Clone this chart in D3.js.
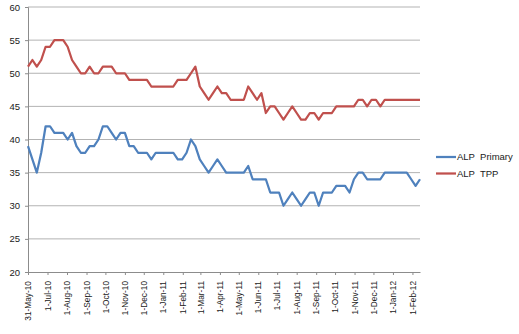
<!DOCTYPE html>
<html>
<head>
<meta charset="utf-8">
<script src="https://cdn.jsdelivr.net/npm/d3@7"></script>
<style>
  html, body { margin: 0; padding: 0; background: #fff; }
  svg { display: block; font-family: "Liberation Sans", Arial, sans-serif; }
</style>
</head>
<body>
<svg id="chart" width="519" height="334"></svg>
<script>
// Weekly poll dates (Monday of each release week)
const pollDates = [
  "2010-05-31",
  "2010-06-07", "2010-06-14", "2010-06-21", "2010-06-28",
  "2010-07-05", "2010-07-12", "2010-07-19", "2010-07-26",
  "2010-08-02", "2010-08-09", "2010-08-16", "2010-08-23", "2010-08-30",
  "2010-09-06", "2010-09-13", "2010-09-20", "2010-09-27",
  "2010-10-04", "2010-10-11", "2010-10-18", "2010-10-25",
  "2010-11-01", "2010-11-08", "2010-11-15", "2010-11-22", "2010-11-29",
  "2010-12-06", "2010-12-13", "2010-12-20", "2010-12-27",
  "2011-01-03", "2011-01-10", "2011-01-17", "2011-01-24", "2011-01-31",
  "2011-02-07", "2011-02-14", "2011-02-21", "2011-02-28",
  "2011-03-07", "2011-03-14", "2011-03-21", "2011-03-28",
  "2011-04-04", "2011-04-11", "2011-04-18", "2011-04-25",
  "2011-05-02", "2011-05-09", "2011-05-16", "2011-05-23", "2011-05-30",
  "2011-06-06", "2011-06-13", "2011-06-20", "2011-06-27",
  "2011-07-04", "2011-07-11", "2011-07-18", "2011-07-25",
  "2011-08-01", "2011-08-08", "2011-08-15", "2011-08-22", "2011-08-29",
  "2011-09-05", "2011-09-12", "2011-09-19", "2011-09-26",
  "2011-10-03", "2011-10-10", "2011-10-17", "2011-10-24", "2011-10-31",
  "2011-11-07", "2011-11-14", "2011-11-21", "2011-11-28",
  "2011-12-05", "2011-12-12", "2011-12-19", "2011-12-26",
  "2012-01-02", "2012-01-09", "2012-01-16", "2012-01-23", "2012-01-30",
  "2012-02-06", "2012-02-13"
];

// ALP primary vote (%)
const alpPrimary = [
  39, 37, 35, 38, 42, 42, 41, 41, 41, 40,
  41, 39, 38, 38, 39, 39, 40, 42, 42, 41,
  40, 41, 41, 39, 39, 38, 38, 38, 37, 38,
  38, 38, 38, 38, 37, 37, 38, 40, 39, 37,
  36, 35, 36, 37, 36, 35, 35, 35, 35, 35,
  36, 34, 34, 34, 34, 32, 32, 32, 30, 31,
  32, 31, 30, 31, 32, 32, 30, 32, 32, 32,
  33, 33, 33, 32, 34, 35, 35, 34, 34, 34,
  34, 35, 35, 35, 35, 35, 35, 34, 33, 34
];

// ALP two-party-preferred vote (%)
const alpTPP = [
  51, 52, 51, 52, 54, 54, 55, 55, 55, 54,
  52, 51, 50, 50, 51, 50, 50, 51, 51, 51,
  50, 50, 50, 49, 49, 49, 49, 49, 48, 48,
  48, 48, 48, 48, 49, 49, 49, 50, 51, 48,
  47, 46, 47, 48, 47, 47, 46, 46, 46, 46,
  48, 47, 46, 47, 44, 45, 45, 44, 43, 44,
  45, 44, 43, 43, 44, 44, 43, 44, 44, 44,
  45, 45, 45, 45, 45, 46, 46, 45, 46, 46,
  45, 46, 46, 46, 46, 46, 46, 46, 46, 46
];

const seriesNames = ["ALP  Primary", "ALP  TPP"];
const seriesColors = ["#4f81bd", "#c0504d"];
const yTicks = [20, 25, 30, 35, 40, 45, 50, 55, 60];
const xTickDates = [
  "2010-05-31", "2010-07-01", "2010-08-01", "2010-09-01", "2010-10-01",
  "2010-11-01", "2010-12-01", "2011-01-01", "2011-02-01", "2011-03-01",
  "2011-04-01", "2011-05-01", "2011-06-01", "2011-07-01", "2011-08-01",
  "2011-09-01", "2011-10-01", "2011-11-01", "2011-12-01", "2012-01-01",
  "2012-02-01"
];

const parse = d3.utcParse("%Y-%m-%d");
const fmt = d3.utcFormat("%-d-%b-%y");
const dates = pollDates.map(parse);

const svg = d3.select("#chart");
const plot = { left: 28, right: 420, top: 7, bottom: 272 };

const x = d3.scaleUtc()
  .domain([dates[0], dates[dates.length - 1]])
  .range([plot.left, plot.right]);
const y = d3.scaleLinear().domain([20, 60]).range([plot.bottom, plot.top]);

// Horizontal gridlines
svg.append("g")
  .selectAll("line")
  .data(yTicks.filter(v => v !== 20))
  .join("line")
  .attr("x1", plot.left).attr("x2", plot.right)
  .attr("y1", d => y(d)).attr("y2", d => y(d))
  .attr("stroke", "#b3b3b3").attr("stroke-width", 1);

// Y axis
const yAxis = svg.append("g")
  .attr("transform", `translate(${plot.left},0)`)
  .call(d3.axisLeft(y).tickValues(yTicks).tickSize(3).tickPadding(5));
yAxis.select(".domain").attr("stroke", "#8c8c8c");
yAxis.selectAll(".tick line").attr("stroke", "#8c8c8c");
yAxis.selectAll("text").attr("font-size", 9.5).attr("fill", "#1a1a1a");

// X axis
const xAxis = svg.append("g")
  .attr("transform", `translate(0,${plot.bottom})`)
  .call(d3.axisBottom(x).tickValues(xTickDates.map(parse)).tickFormat(fmt).tickSize(3).tickSizeOuter(0));
xAxis.select(".domain").attr("stroke", "#8c8c8c");
xAxis.selectAll(".tick line").attr("stroke", "#8c8c8c");
xAxis.selectAll("text")
  .attr("font-size", 8.3)
  .attr("fill", "#1a1a1a")
  .attr("text-anchor", "end")
  .attr("transform", "rotate(-90)")
  .attr("x", -9)
  .attr("y", 0)
  .attr("dy", "0.32em");

// Lines
const seriesValues = [alpPrimary, alpTPP];
const line = d3.line()
  .x((d, i) => x(dates[i]))
  .y(d => y(d));

svg.append("g")
  .selectAll("path")
  .data(seriesValues)
  .join("path")
  .attr("d", d => line(d))
  .attr("fill", "none")
  .attr("stroke", (d, i) => seriesColors[i])
  .attr("stroke-width", 2.25)
  .attr("stroke-linejoin", "round");

// Legend
const legend = svg.append("g").attr("transform", "translate(436,157)");
const items = legend.selectAll("g")
  .data(seriesNames)
  .join("g")
  .attr("transform", (d, i) => `translate(0,${i * 16.5})`);
items.append("line")
  .attr("x1", 0).attr("x2", 20)
  .attr("y1", 0).attr("y2", 0)
  .attr("stroke", (d, i) => seriesColors[i])
  .attr("stroke-width", 2.25);
items.append("text")
  .attr("x", 21).attr("y", 0).attr("dy", "0.35em")
  .attr("font-size", 9.5)
  .attr("fill", "#1a1a1a")
  .style("white-space", "pre")
  .attr("xml:space", "preserve")
  .text(d => d);
</script>
</body>
</html>
